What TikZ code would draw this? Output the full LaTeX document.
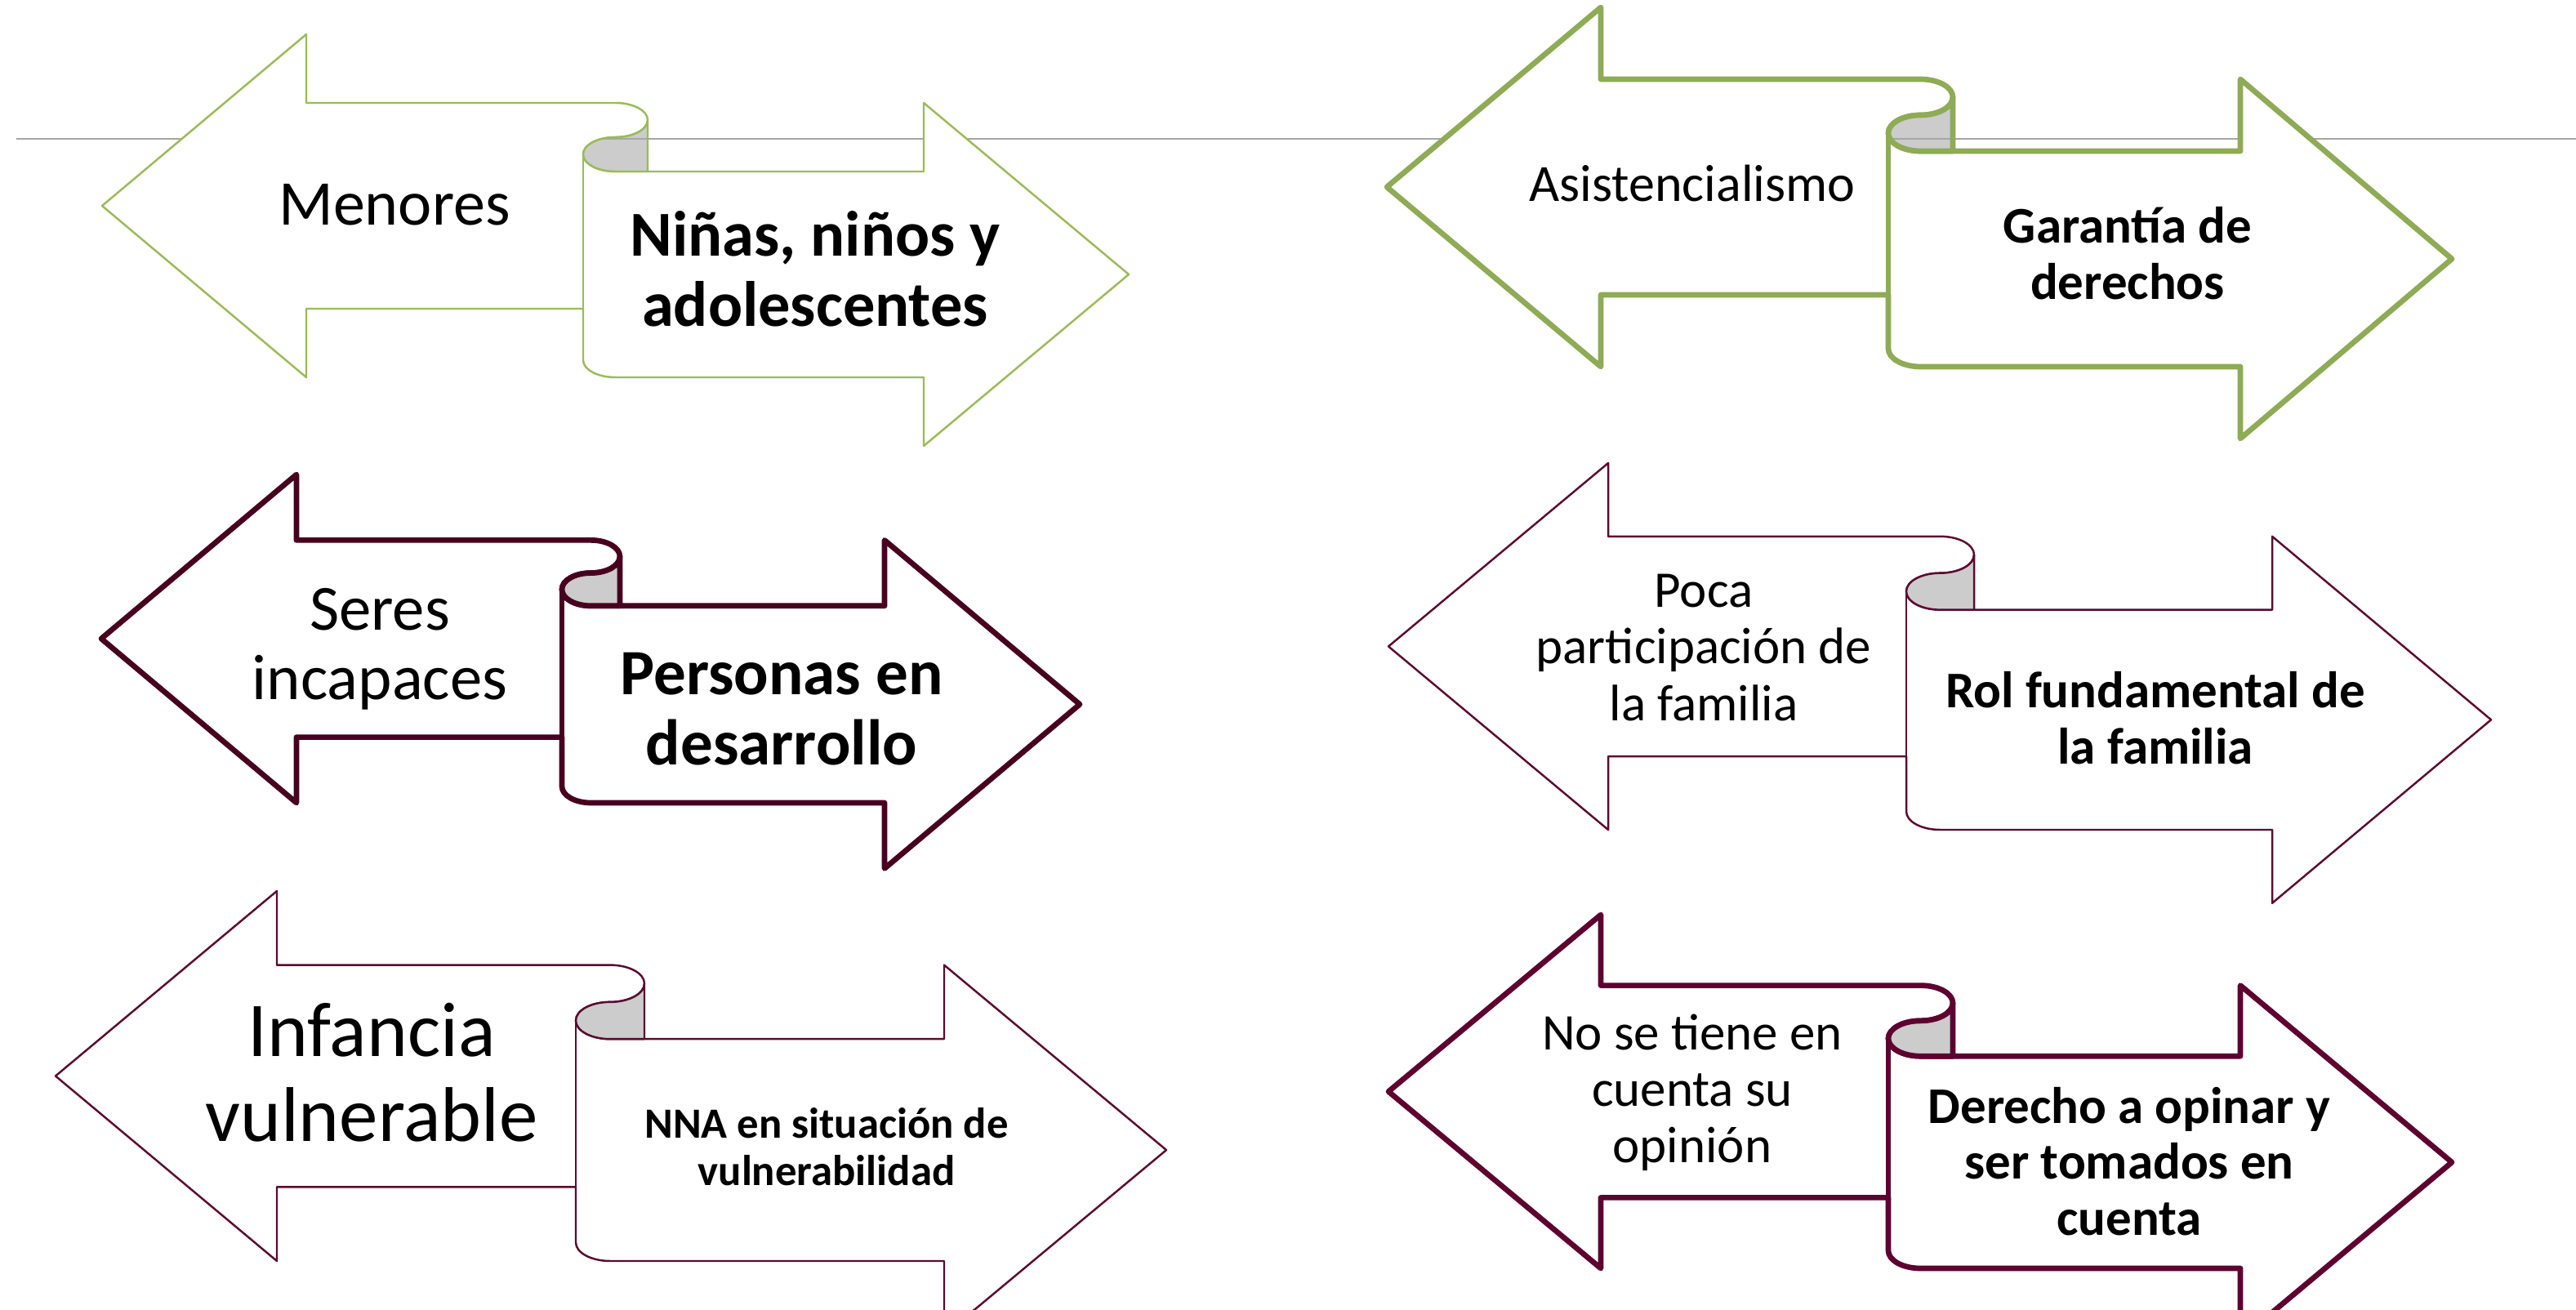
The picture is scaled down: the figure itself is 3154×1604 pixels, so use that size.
\documentclass[tikz,border=0pt]{standalone}
\usepackage{fontspec}
\setmainfont{Carlito}
\definecolor{greenthin}{HTML}{9BBB59}
\definecolor{greenthick}{HTML}{8EAB55}
\definecolor{maroondark}{HTML}{48001F}
\definecolor{maroonthin}{HTML}{5C0A30}
\definecolor{maroonthick}{HTML}{5E0030}
\definecolor{curlgrey}{HTML}{CCCCCC}
\tikzset{
  thinG/.style={draw=greenthin, line width=0.7pt, line join=round},
  thickG/.style={draw=greenthick, line width=1.9pt, line join=round},
  thickM3/.style={draw=maroondark, line width=1.9pt, line join=round},
  thinM/.style={draw=maroonthin, line width=0.7pt, line join=round},
  thickM/.style={draw=maroonthick, line width=1.9pt, line join=round},
  hline/.style={draw=gray!70, line width=0.6pt},
  txt/.style={inner sep=0pt, align=center, text=black},
}
% #1 style, #2 xL tip, #3 left head back, #4 curl left, #5 curl right,
% #6 right head back, #7 right tip, #8 centre y of left arrow, #9 unit
\newcommand{\lrribbon}[9]{%
  \pgfmathsetmacro{\rbXmid}{(#4+#5)/2}%
  \pgfmathsetmacro{\rbRx}{(#5-#4)/2}%
  \pgfmathsetmacro{\rbRy}{0.5*#9}%
  \draw[#1, fill=white] (#2,#8) -- (#3,#8-5*#9) -- (#3,#8-3*#9) -- (\rbXmid,#8-3*#9)
    arc[start angle=-90, end angle=90, x radius=\rbRx, y radius=\rbRy]
    arc[start angle=270, end angle=90, x radius=\rbRx, y radius=\rbRy]
    -- (#6,#8-#9) -- (#6,#8-3*#9) -- (#7,#8+2*#9) -- (#6,#8+7*#9) -- (#6,#8+5*#9)
    -- (\rbXmid,#8+5*#9)
    arc[start angle=90, end angle=180, x radius=\rbRx, y radius=\rbRy]
    -- (#4,#8+3*#9) -- (#3,#8+3*#9) -- (#3,#8+5*#9) -- cycle;
  \draw[#1] (#4,#8-1.5*#9) -- (#4,#8+3*#9);
  \fill[curlgrey] (\rbXmid,#8-2*#9)
    arc[start angle=270, end angle=90, x radius=\rbRx, y radius=\rbRy]
    -- (#5,#8-#9) -- (#5,#8-2.5*#9)
    arc[start angle=0, end angle=90, x radius=\rbRx, y radius=\rbRy] -- cycle;
  \begin{scope}
    \clip (\rbXmid,#8-2*#9)
      arc[start angle=270, end angle=90, x radius=\rbRx, y radius=\rbRy]
      -- (#5,#8-#9) -- (#5,#8-2.5*#9)
      arc[start angle=0, end angle=90, x radius=\rbRx, y radius=\rbRy] -- cycle;
    \draw[hline] (20,170) -- (3154,170);
  \end{scope}
  \draw[#1] (\rbXmid,#8-2*#9)
    arc[start angle=270, end angle=90, x radius=\rbRx, y radius=\rbRy]
    -- (#5,#8-#9) -- (#5,#8-2.5*#9)
    arc[start angle=0, end angle=90, x radius=\rbRx, y radius=\rbRy];
}
\begin{document}
\begin{tikzpicture}[x=0.01cm, y=-0.01cm]
  \clip (0,0) rectangle (3154,1604);
  \fill[white] (0,0) rectangle (3154,1604);
  \draw[hline] (20,170) -- (3154,170);

  \lrribbon{thinG}{125}{375}{714}{793}{1131}{1382}{252}{42}
  \lrribbon{thickG}{1698}{1960}{2312}{2391}{2743}{3002}{229}{44}
  \lrribbon{thickM3}{124}{363}{688}{759}{1083}{1322}{782}{40.2}
  \lrribbon{thinM}{1700}{1969}{2334}{2417}{2782}{3050}{791.5}{44.9}
  \lrribbon{thinM}{68}{339}{705}{789}{1156}{1428}{1317.5}{45.3}
  \lrribbon{thickM}{1700}{1960}{2312}{2391}{2743}{3002}{1336.5}{43.3}

  \node[txt, font=\fontsize{22.2pt}{24.4pt}\selectfont] (a1) at (483,251) {Menores};
  \node[txt, font=\fontsize{22.3pt}{24.5pt}\selectfont\bfseries] (b1) at (998,329) {Niñas, niños y\\adolescentes};
  \node[txt, font=\fontsize{18.2pt}{20pt}\selectfont] (a2) at (2072,225) {Asistencialismo};
  \node[txt, font=\fontsize{17.9pt}{19.6pt}\selectfont\bfseries] (b2) at (2605,310) {Garantía de\\derechos};
  \node[txt, font=\fontsize{22.4pt}{24.3pt}\selectfont] (a3) at (465,795) {Seres\\incapaces};
  \node[txt, font=\fontsize{22.5pt}{24.6pt}\selectfont\bfseries] (b3) at (957,868) {Personas en\\desarrollo};
  \node[txt, font=\fontsize{17.9pt}{19.7pt}\selectfont] (a4) at (2086,793) {Poca\\participación de\\la familia};
  \node[txt, font=\fontsize{17.9pt}{19.5pt}\selectfont\bfseries] (b4) at (2639,879) {Rol fundamental de\\la familia};
  \node[txt, font=\fontsize{27pt}{29.7pt}\selectfont] (a5) at (455,1313) {Infancia\\vulnerable};
  \node[txt, font=\fontsize{15pt}{16.5pt}\selectfont\bfseries] (b5) at (1012,1404) {NNA en situación de\\vulnerabilidad};
  \node[txt, font=\fontsize{17.9pt}{19.7pt}\selectfont] (a6) at (2072,1338) {No se tiene en\\cuenta su\\opinión};
  \node[txt, font=\fontsize{17.9pt}{19.5pt}\selectfont\bfseries] (b6) at (2607,1422) {Derecho a opinar y\\ser tomados en\\cuenta};
\end{tikzpicture}
\end{document}
